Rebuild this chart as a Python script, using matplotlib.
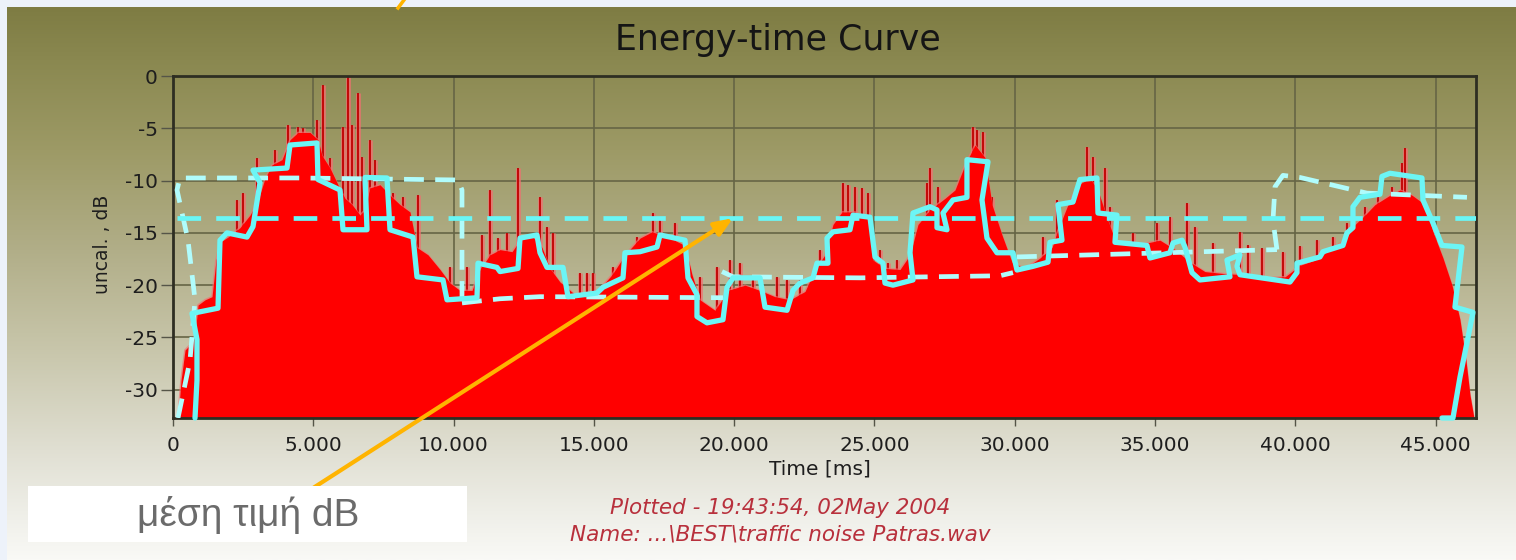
import numpy as np
import matplotlib
matplotlib.use("Agg")
import matplotlib.pyplot as plt
from matplotlib.colors import to_rgb
from matplotlib.patches import Rectangle
from matplotlib.lines import Line2D
from matplotlib.ticker import FixedLocator, FuncFormatter

# ---------------------------------------------------------------- data
# energy envelope (time in ms, level in dB)
body_t = [178, 285, 428, 606, 784, 891, 1140, 1390, 1533, 1675, 1960, 2388, 2744,
          3029, 3279, 3528, 3885, 4170, 4455, 4883, 5168, 5310, 5595, 5881, 6130,
          6380, 6665, 6843, 7021, 7377, 7734, 8090, 8447, 8696, 9088, 9516, 9872,
          10229, 10656, 10941, 11298, 11654, 12082, 12367, 12795, 13151, 13436,
          13793, 14327, 14862, 15218, 15646, 16109, 16644, 17072, 17642, 18248,
          18497, 18782, 19317, 19780, 20386, 20921, 21455, 21990, 22524, 22881,
          23237, 23522, 23843, 24306, 24770, 24948, 25376, 25910, 26267, 26552,
          26979, 27514, 27870, 28227, 28583, 28940, 29189, 29546, 29902, 30365,
          30900, 31328, 31613, 31898, 32254, 32682, 32967, 33216, 33573, 34107,
          34642, 35177, 35711, 36246, 36780, 37493, 38206, 38919, 39632, 40166,
          40701, 41236, 41770, 42127, 42483, 42839, 43374, 43730, 44158, 44621,
          44906, 45263, 45584, 45869, 46083, 46226, 46368]
body_db = [-32.7, -29.1, -26.2, -25.7, -24.8, -21.9, -21.4, -21.1, -17.6, -15.9,
           -15.4, -14.5, -13.3, -11.9, -9.8, -8.5, -8.0, -6.1, -5.4, -5.4, -6.1,
           -7.6, -8.8, -10.4, -11.7, -12.3, -13.3, -12.8, -10.7, -10.4, -11.4,
           -12.3, -13.0, -16.4, -17.1, -18.5, -19.8, -20.5, -20.5, -18.5, -17.1,
           -16.6, -16.8, -15.7, -15.3, -16.4, -18.4, -19.7, -20.9, -21.2, -20.3,
           -19.0, -17.1, -15.5, -14.9, -15.4, -16.2, -19.0, -21.4, -22.4, -20.5,
           -20.0, -20.5, -21.1, -21.4, -20.6, -18.5, -17.1, -14.2, -13.0, -13.0,
           -13.6, -17.6, -18.4, -18.5, -17.1, -14.2, -12.8, -11.7, -10.9, -8.5,
           -6.6, -7.8, -12.3, -15.2, -17.8, -18.4, -17.4, -16.4, -14.2, -12.3,
           -10.4, -9.8, -10.9, -13.0, -15.7, -16.0, -16.0, -15.7, -16.6, -17.8,
           -18.7, -18.9, -19.0, -19.3, -19.2, -18.1, -17.6, -16.6, -15.7, -14.2,
           -13.3, -12.3, -11.4, -10.9, -11.4, -12.3, -14.9, -17.4, -20.0, -23.3,
           -27.2, -30.5, -32.7]

# short peaks rising above the envelope
peak_t = [2281, 2495, 2994, 3635, 4099, 4455, 4633, 5132, 5346, 5595, 6059, 6237,
          6380, 6593, 6736, 7021, 7199, 7841, 8197, 8732, 8910, 9872, 10478,
          11013, 11298, 11583, 11904, 12296, 12617, 13080, 13329, 13543, 14506,
          14755, 14969, 15682, 16537, 17107, 17357, 17891, 18319, 18782, 19388,
          19851, 20208, 20671, 21526, 21883, 22346, 23059, 23879, 24057, 24306,
          24556, 24770, 25198, 25483, 25803, 26873, 26979, 27265, 28156, 28512,
          28655, 28868, 29189, 29367, 31007, 31506, 32575, 32789, 33216, 33394,
          34214, 35070, 35533, 36139, 36424, 37066, 38028, 38313, 38812, 39560,
          40166, 40772, 41342, 41841, 42483, 42946, 43445, 43801, 43908]
peak_db = [-11.9, -11.2, -7.8, -7.1, -4.7, -4.9, -5.0, -4.2, -0.9, -7.8, -4.9, 0.0,
           -4.7, -1.6, -7.7, -6.1, -8.0, -11.2, -11.6, -11.4, -16.9, -18.3, -18.3,
           -15.2, -10.9, -15.5, -15.0, -8.8, -15.4, -11.6, -14.4, -15.0, -18.8,
           -18.8, -18.8, -18.3, -15.4, -13.1, -13.8, -14.1, -19.5, -19.2, -18.3,
           -17.6, -17.9, -19.5, -19.2, -19.5, -19.5, -16.6, -10.2, -10.4, -10.6,
           -10.7, -11.2, -16.6, -17.9, -17.6, -10.2, -8.8, -10.6, -9.7, -4.9,
           -5.2, -5.4, -11.6, -14.1, -15.4, -11.9, -6.8, -7.7, -8.8, -12.5,
           -15.0, -14.1, -13.5, -12.1, -14.4, -16.0, -14.9, -16.2, -16.4, -16.8,
           -16.3, -15.7, -15.4, -14.1, -12.5, -11.6, -10.6, -8.3, -6.9]

# hand-drawn contour around the envelope
trace_t = [784, 855, 855, 677, 1604, 1675, 1925, 2637, 2851, 3101, 2851, 4063,
           4170, 5132, 5168, 5952, 6059, 6914, 6843, 7627, 7734, 8554, 8696, 9623,
           9765, 10835, 10870, 11547, 11654, 12296, 12367, 12973, 13080, 13329,
           13900, 14078, 15111, 15325, 16038, 16109, 16644, 17250, 17357, 18248,
           18355, 18675, 18675, 19032, 19602, 19745, 19958, 20921, 21099, 21883,
           22097, 22346, 22810, 22952, 23344, 23309, 23522, 24128, 24235, 24841,
           25019, 25304, 25376, 25661, 26374, 26267, 26374, 26979, 27229, 27229,
           27585, 27443, 27799, 28298, 28298, 29047, 28833, 29011, 29367, 29938,
           30080, 30650, 31185, 31256, 31684, 31541, 32076, 32325, 32931, 32967,
           33644, 33573, 34713, 34820, 35532, 35640, 35961, 36068, 36317, 36602,
           37671, 37565, 38028, 37921, 38028, 39810, 40059, 40059, 40879, 40986,
           41699, 41841, 42055, 42055, 42305, 43017, 43089, 43374, 44514, 44550,
           44906, 45227, 45940, 45690, 46332, 46118, 45869, 45619, 45227]
trace_db = [-32.7, -29.1, -25.2, -22.7, -22.2, -15.7, -15.0, -15.4, -14.4, -10.2,
            -9.0, -8.8, -6.6, -6.4, -9.9, -10.9, -14.7, -14.7, -9.7, -9.75, -14.7,
            -15.4, -19.2, -19.5, -21.4, -21.2, -17.9, -18.3, -18.7, -18.4, -15.5,
            -15.2, -16.9, -18.3, -18.3, -21.1, -20.75, -20.2, -19.3, -16.9, -16.8,
            -16.35, -15.2, -15.7, -19.3, -20.9, -23.0, -23.6, -23.3, -20.2, -19.3,
            -19.3, -22.1, -22.4, -20.5, -19.8, -19.3, -17.9, -17.9, -15.5, -14.9,
            -14.7, -13.3, -13.5, -17.3, -17.9, -19.8, -20.0, -19.5, -16.9, -13.1,
            -12.5, -12.8, -14.5, -14.7, -13.1, -11.85, -11.6, -8.0, -8.2, -11.85,
            -15.5, -16.9, -16.9, -18.55, -18.2, -17.8, -15.9, -15.7, -12.3, -12.05,
            -9.9, -9.75, -13.1, -13.3, -15.9, -16.2, -17.4, -16.9, -15.97, -15.7,
            -16.35, -18.8, -19.5, -19.2, -17.6, -17.1, -18.2, -19.0, -19.7, -18.8,
            -17.9, -17.3, -16.8, -16.2, -15.0, -14.5, -12.5, -11.6, -11.3, -9.6,
            -9.3, -9.75, -11.85, -14.05, -16.2, -16.35, -22.1, -22.6, -25.5, -28.8,
            -32.7, -32.7]

# segment levels (dashed outlines)
seg_a_t = [178, 606, 784, 535, 143, 249, 4526, 10157, 10300, 10300, 10300]
seg_a_db = [-32.7, -27.2, -21.4, -15.7, -10.9, -9.75, -9.75, -9.94, -10.9, -16.6, -22.1]
seg_b_t = [10300, 11654, 13080, 19602]
seg_b_db = [-21.7, -21.3, -21.1, -21.2]
seg_c_t = [19567, 19958, 24485, 29474, 29938]
seg_c_db = [-18.7, -19.2, -19.3, -19.1, -18.8]
seg_d_t = [30080, 39346]
seg_d_db = [-17.3, -16.6]
seg_e_t = [39346, 39204, 39275, 39560, 40166, 42554, 46118]
seg_e_db = [-16.6, -13.8, -10.6, -9.5, -9.7, -11.2, -11.6]

mean_db = -13.6
arrow_t = 19958

x_ticks = [0, 5000, 10000, 15000, 20000, 25000, 30000, 35000, 40000, 45000]
y_ticks = [0, -5, -10, -15, -20, -25, -30]
x_max = 46440
y_min = -32.7

title = "Energy-time Curve"
x_label = "Time [ms]"
y_label = "uncal. , dB"
footer_1 = "Plotted - 19:43:54, 02May 2004"
footer_2 = "Name: ...\\BEST\\traffic noise Patras.wav"
callout = "μέση τιμή dB"

# ---------------------------------------------------------------- figure
W, H = 1516, 560
fig = plt.figure(figsize=(W / 100, H / 100), dpi=100, facecolor="#EDF2FA")

# olive-to-white panel behind the chart
bg = fig.add_axes([0, 0, 1, 1], zorder=-10)
bg.set_xlim(0, W)
bg.set_ylim(H, 0)
bg.axis("off")
stop_y = [7, 60, 150, 250, 350, 450, 520, 560]
stop_c = ["#7E7C43", "#8A8850", "#9D9A66", "#B1AE88", "#C8C6AB", "#E0DFD2",
          "#F0F0EA", "#F9F9F6"]
rows = np.arange(7, 561)
rgb = np.array([to_rgb(c) for c in stop_c])
grad = np.stack([np.interp(rows, stop_y, rgb[:, k]) for k in range(3)], axis=-1)
bg.imshow(grad[:, None, :], extent=(7, W, 560, 7), aspect="auto",
          interpolation="bilinear")

# main plotting area
ax = fig.add_axes([173 / W, 1 - 418 / H, (1476 - 173) / W, (418 - 76) / H])
ax.set_facecolor("none")
ax.set_xlim(0, x_max)
ax.set_ylim(y_min, 0)

ax.xaxis.set_major_locator(FixedLocator(x_ticks))
ax.yaxis.set_major_locator(FixedLocator(y_ticks))
ax.xaxis.set_major_formatter(FuncFormatter(lambda v, p: f"{int(v):,}".replace(",", ".")))
ax.yaxis.set_major_formatter(FuncFormatter(lambda v, p: f"{int(v)}"))
ax.grid(True, color="#666545", linewidth=1.2, zorder=0.5)
ax.set_axisbelow(True)

for side in ["left", "top", "right", "bottom"]:
    ax.spines[side].set_color("#2E2E22")
    ax.spines[side].set_linewidth(2)
ax.tick_params(axis="y", direction="out", length=9, width=1, color="#555548",
               labelsize=14.5, labelcolor="#1E1E1E", pad=2)
ax.tick_params(axis="x", direction="out", length=6, width=1, color="#555548",
               labelsize=14.5, labelcolor="#1E1E1E", pad=7)

# energy curve: peaks sit behind the solid body so only their tips show
ax.vlines(peak_t, y_min, peak_db, color="#F07070", linewidth=3.4, alpha=0.8, zorder=1.8)
ax.vlines(peak_t, y_min, peak_db, color="#C00000", linewidth=1.3, zorder=1.9)
ax.plot(body_t, body_db, color="#F27070", linewidth=1.2, alpha=0.7, zorder=1.95)
ax.fill_between(body_t, body_db, y_min, color="#FF0000", linewidth=0, zorder=2)

# segment outlines
seg_style = dict(color="#B0FCFC", linewidth=3.4, linestyle=(0, (4.2, 2.4)),
                 solid_capstyle="butt", zorder=3)
for st, sd in [(seg_a_t, seg_a_db), (seg_b_t, seg_b_db), (seg_c_t, seg_c_db),
               (seg_d_t, seg_d_db), (seg_e_t, seg_e_db)]:
    ax.plot(st, sd, **seg_style)

# mean level
ax.plot([140, x_max], [mean_db, mean_db], color="#6AF6F6", linewidth=3.4,
        linestyle=(0, (5.0, 3.2)), zorder=3.1)

# contour
ax.plot(trace_t, trace_db, color="#6CF5F5", linewidth=3.8, solid_joinstyle="round",
        solid_capstyle="round", zorder=4, clip_on=False)

# labels
fig.text(778 / W, 1 - 50 / H, title, ha="center", va="baseline", fontsize=25,
         color="#151515", family="DejaVu Sans")
fig.text(820 / W, 1 - 469 / H, x_label, ha="center", va="center", fontsize=14.5,
         color="#1E1E1E")
fig.text(102 / W, 1 - 244 / H, y_label, ha="center", va="center", fontsize=13.5,
         rotation=90, color="#1E1E1E")
fig.text(780 / W, 1 - 508 / H, footer_1, ha="center", va="center", fontsize=15.5,
         style="italic", color="#B8303C")
fig.text(780 / W, 1 - 535 / H, footer_2, ha="center", va="center", fontsize=15.5,
         style="italic", color="#B8303C")

# call-out box with arrow to the mean line
fig.patches.append(Rectangle((28 / W, 1 - 542 / H), 439 / W, 56 / H,
                             transform=fig.transFigure, facecolor="white",
                             edgecolor="none", zorder=5))
fig.text(248 / W, 1 - 515 / H, callout, ha="center", va="center", fontsize=28,
         color="#6B6B6B", family="Liberation Sans", zorder=6)
ax.annotate("", xy=(arrow_t, mean_db), xycoords="data",
            xytext=(310 / W, 1 - 490 / H), textcoords="figure fraction",
            arrowprops=dict(arrowstyle="-|>,head_length=1.1,head_width=0.45",
                            color="#FFB400", linewidth=3, shrinkA=0, shrinkB=0),
            zorder=6, annotation_clip=False)
fig.lines.append(Line2D([398 / W, 404 / W], [1 - 8 / H, 1.0], transform=fig.transFigure,
                        color="#FFB400", linewidth=2.5))

fig.savefig("out.png", dpi=100, facecolor=fig.get_facecolor())
